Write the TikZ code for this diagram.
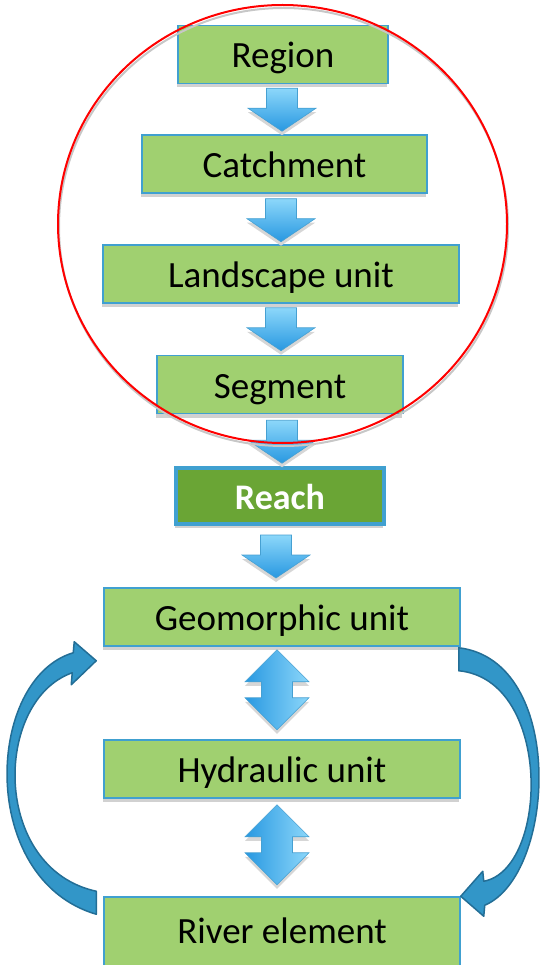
\documentclass[tikz,border=0pt]{standalone}
\usepackage{fontspec}
\setmainfont{Carlito}
\usetikzlibrary{calc,shadows}

\definecolor{boxgreen}{RGB}{160,208,112}
\definecolor{reachgreen}{RGB}{106,165,53}
\definecolor{boxblue}{RGB}{64,160,208}
\definecolor{arrowlight}{RGB}{140,215,250}
\definecolor{arrowdark}{RGB}{40,152,225}
\definecolor{arrowline}{RGB}{70,160,210}
\definecolor{bendfill}{RGB}{50,150,200}
\definecolor{bendline}{RGB}{35,110,150}

\tikzset{
    level/.style={draw=boxblue, line width=1.5pt, fill=boxgreen,
        minimum height=58pt, inner sep=0pt, text height=27pt, text depth=0pt,
        font=\fontsize{37}{40}\selectfont,
        drop shadow={shadow xshift=-1pt, shadow yshift=-4pt, fill=black!18, opacity=1}},
    reachbox/.style={level, line width=4pt, fill=reachgreen, text=white,
        minimum height=56pt, font=\fontsize{36}{40}\selectfont\bfseries},
    loopshape/.style={fill=bendfill, draw=bendline, line width=1.5pt, line join=round},
    % Block arrow pointing down (top of the shaft at the origin)
    pics/downblock/.style={code={
        \fill [black!16] (-15.5,4) -- (15.5,4) -- (15.5,24) -- (34,24) -- (0,47)
            -- (-34,24) -- (-15.5,24) -- cycle;
        \shade [top color=arrowlight, bottom color=arrowdark, draw=arrowline, line width=0.6pt]
            (-15.5,0) -- (15.5,0) -- (15.5,20) -- (34,20) -- (0,43)
            -- (-34,20) -- (-15.5,20) -- cycle;
    }},
    % Block arrow pointing both ways (upper tip at the origin)
    pics/updownblock/.style={code={
        \fill [black!16] (0,4) -- (32,36) -- (15.5,36) -- (15.5,52) -- (32,52) -- (0,84)
            -- (-32,52) -- (-15.5,52) -- (-15.5,36) -- (-32,36) -- cycle;
        \shade [left color=arrowdark, right color=arrowlight, draw=arrowline, line width=0.6pt]
            (0,0) -- (32,32) -- (15.5,32) -- (15.5,48) -- (32,48) -- (0,80)
            -- (-32,48) -- (-15.5,48) -- (-15.5,32) -- (-32,32) -- cycle;
    }}
}

\begin{document}
\begin{tikzpicture}[x=1pt, y=-1pt]
    \useasboundingbox (0,0) rectangle (539,965);

    % Levels:
    \node [level, minimum width=210pt] (region)    at (283,54.5)  {Region};
    \node [level, minimum width=285pt] (catchment) at (284.5,164) {Catchment};
    \node [level, minimum width=356pt] (landscape) at (281,274)   {Landscape unit};
    \node [level, minimum width=246pt] (segment)   at (280,384.5) {Segment};
    \node [reachbox, minimum width=208pt] (reach)  at (280,496)   {Reach};
    \node [level, minimum width=356pt] (geo)       at (282,617)   {Geomorphic unit};
    \node [level, minimum width=356pt] (hydraulic) at (282,769)   {Hydraulic unit};
    % (runs off the bottom edge)
    \node [level, minimum width=356pt, minimum height=75pt, text height=17pt] (river) at (282,934.5) {River element};

    % Block arrows between the levels:
    \pic at ($(region.south)+(-1,4)$)    {downblock};
    \pic at ($(catchment.south)+(-3.5,5)$) {downblock};
    \pic at ($(landscape.south)+(0,4)$)  {downblock};
    \pic at ($(segment.south)+(2,6)$)    {downblock};
    \pic at ($(reach.south)+(-4,9)$)     {downblock};
    \pic at ($(geo.south)+(-5,3)$)       {updownblock};
    \pic at ($(hydraulic.south)+(-5,6)$) {updownblock};

    % Curved arrows:
    % River element -> Geomorphic unit, on the left
    \path [loopshape] ([shift={(-7,18)}]river.north west)
        .. controls +(-119,-35) and +(-88,26) .. ([shift={(-30,6)}]geo.south west)
        -- ([shift={(-29,-5)}]geo.south west)
        -- ([shift={(-7,14)}]geo.south west)
        -- ([shift={(-32,38)}]geo.south west)
        -- ([shift={(-31,26)}]geo.south west)
        .. controls +(-79,28) and +(-105,-23) .. ([shift={(-7,-5)}]river.north west)
        -- cycle;
    % Geomorphic unit -> River element, on the right
    \path [loopshape] ([shift={(-2,1)}]geo.south east)
        .. controls +(108,13) and +(71,-30) .. ([shift={(24,9)}]river.north east)
        -- ([shift={(23,20)}]river.north east)
        -- (river.north east)
        -- ([shift={(22,-25)}]river.north east)
        -- ([shift={(23,-15)}]river.north east)
        .. controls +(65,-12) and +(94,9) .. ([shift={(-2,24)}]geo.south east)
        -- cycle;

    % The circle round the upper levels:
    \draw [black!22, line width=2pt] (283.5,227) ellipse [x radius=224.5, y radius=219];
    \draw [red, line width=2pt] (282.5,224) ellipse [x radius=224.5, y radius=219];
\end{tikzpicture}
\end{document}
